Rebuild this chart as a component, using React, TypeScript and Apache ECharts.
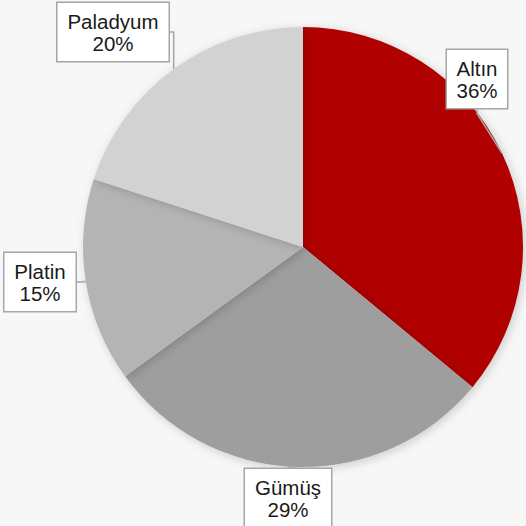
import React, { useEffect, useRef } from "react";
import * as echarts from "echarts";

const categories = ["Altın", "Gümüş", "Platin", "Paladyum"];
const values = [36, 29, 15, 20];
const colors = ["#B00000", "#9E9E9E", "#B4B4B4", "#D2D2D2"];

// label box centres and text widths (layout only)
const labelPos: [number, number][] = [
  [477, 79],
  [288, 498],
  [40, 282],
  [113, 32],
];
const labelWidths = [40, 66, 51, 91];

export default function App() {
  const ref = useRef<HTMLDivElement>(null);
  useEffect(() => {
    if (!ref.current) return;
    const chart = echarts.init(ref.current, null, { renderer: "svg" });
    chart.setOption({
      animation: false,
      backgroundColor: "#F7F7F7",
      series: [
        {
          type: "pie",
          center: [303, 247],
          radius: 220,
          startAngle: 90,
          clockwise: true,
          data: categories.map((c, i) => ({
            name: c,
            value: values[i],
            itemStyle: { color: colors[i] },
            label: { width: labelWidths[i] },
          })),
          itemStyle: {
            shadowBlur: 10,
            shadowColor: "rgba(0,0,0,0.18)",
            shadowOffsetX: 2,
            shadowOffsetY: 2,
          },
          emphasis: { disabled: true },
          label: {
            show: true,
            position: "outside",
            alignTo: "none",
            overflow: "none",
            formatter: (p: any) => `${p.name}\n${p.value}%`,
            fontFamily: "Liberation Sans, Arial, sans-serif",
            fontSize: 20.5,
            lineHeight: 22,
            color: "#1A1A1A",
            align: "center",
            backgroundColor: "#FFFFFF",
            borderColor: "#A6A6A6",
            borderWidth: 1.5,
            padding: [7, 10, 7, 10],
          },
          labelLine: {
            show: true,
            showAbove: true,
            length: 8,
            length2: 4,
            smooth: false,
            lineStyle: { color: "#A6A6A6", width: 1.5 },
          },
          labelLayout: (params: any) => {
            const p = labelPos[params.dataIndex];
            return {
              x: p[0],
              y: p[1],
              align: "center",
              verticalAlign: "middle",
            };
          },
        },
      ],
    });
    return () => chart.dispose();
  }, []);
  return (
    <div
      ref={ref}
      style={{ position: "fixed", left: 0, top: 0, width: 526, height: 526 }}
    />
  );
}
